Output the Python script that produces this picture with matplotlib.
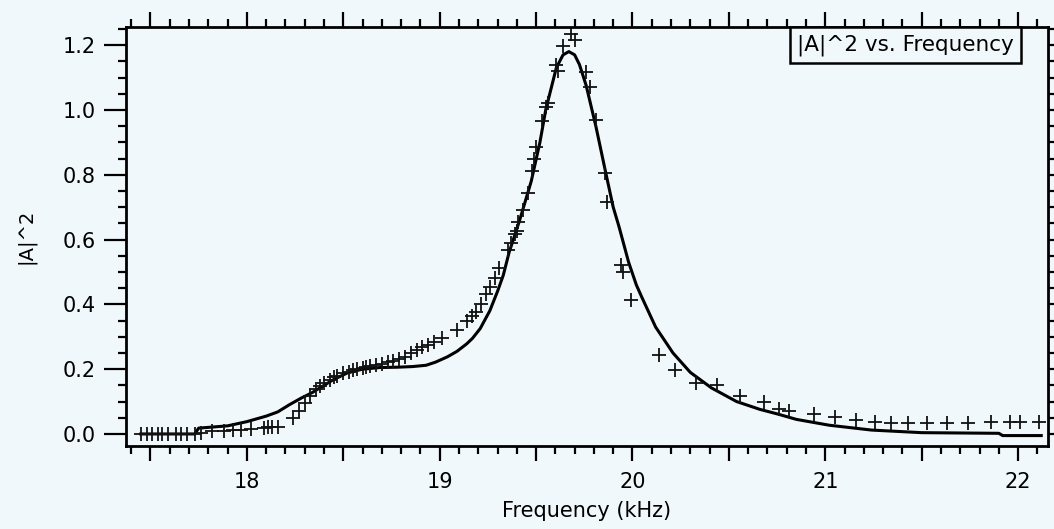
import numpy as np
import matplotlib
matplotlib.use("Agg")
import matplotlib.pyplot as plt
from matplotlib.ticker import MultipleLocator, FuncFormatter

# measured points (kHz, |A|^2)
freq_data = [17.45, 17.48, 17.51, 17.54, 17.56, 17.59, 17.63, 17.66, 17.69, 17.73,
             17.76, 17.82, 17.88, 17.93, 17.97, 18.02, 18.09, 18.11, 18.13, 18.16,
             18.24, 18.27, 18.30, 18.33, 18.36, 18.38, 18.40, 18.43, 18.45, 18.47,
             18.50, 18.53, 18.55, 18.57, 18.60, 18.62, 18.64, 18.67, 18.70, 18.73,
             18.76, 18.79, 18.82, 18.85, 18.88, 18.91, 18.94, 18.97, 19.01, 19.09,
             19.14, 19.17, 19.19, 19.215, 19.24, 19.26, 19.285, 19.31, 19.355, 19.37,
             19.39, 19.40, 19.405, 19.43, 19.46, 19.48, 19.49, 19.50, 19.53, 19.55,
             19.56, 19.605, 19.615, 19.64, 19.68, 19.70, 19.76, 19.78, 19.81, 19.855,
             19.87, 19.94, 19.95, 19.99, 20.14, 20.22, 20.33, 20.44, 20.56, 20.68,
             20.76, 20.81, 20.94, 21.05, 21.16, 21.26, 21.34, 21.43, 21.53, 21.63,
             21.74, 21.86, 21.96, 22.01, 22.11]
amp_data = [0.0, 0.0, 0.0, 0.0, 0.0, 0.0, 0.0, 0.0, 0.0, 0.0,
            0.002, 0.008, 0.010, 0.012, 0.012, 0.015, 0.018, 0.020, 0.020, 0.022,
            0.050, 0.070, 0.095, 0.118, 0.140, 0.148, 0.156, 0.167, 0.175, 0.180,
            0.187, 0.192, 0.197, 0.200, 0.204, 0.206, 0.209, 0.212, 0.216, 0.221,
            0.226, 0.232, 0.239, 0.250, 0.258, 0.268, 0.276, 0.285, 0.295, 0.322,
            0.350, 0.363, 0.377, 0.400, 0.432, 0.455, 0.480, 0.512, 0.568, 0.590,
            0.616, 0.625, 0.655, 0.690, 0.743, 0.810, 0.850, 0.887, 0.965, 1.010,
            1.020, 1.139, 1.120, 1.197, 1.233, 1.215, 1.118, 1.072, 0.969, 0.805,
            0.715, 0.520, 0.500, 0.414, 0.244, 0.198, 0.158, 0.151, 0.118, 0.098,
            0.076, 0.072, 0.062, 0.052, 0.043, 0.036, 0.033, 0.033, 0.033, 0.033,
            0.033, 0.037, 0.037, 0.037, 0.037]

# fit curve
freq_fit = [17.45, 17.73, 17.75, 17.90, 18.00, 18.10, 18.16, 18.22, 18.28, 18.34,
            18.40, 18.45, 18.52, 18.60, 18.69, 18.78, 18.86, 18.93, 18.98, 19.04,
            19.09, 19.14, 19.17, 19.21, 19.26, 19.30, 19.33, 19.36, 19.415, 19.475,
            19.52, 19.55, 19.605, 19.64, 19.67, 19.70, 19.725, 19.76, 19.81, 19.86,
            19.90, 19.93, 19.98, 20.02, 20.05, 20.12, 20.21, 20.30, 20.41, 20.54,
            20.66, 20.75, 20.85, 21.02, 21.24, 21.50, 21.90, 21.92, 22.12]
amp_fit = [0.0, 0.0, 0.018, 0.025, 0.038, 0.055, 0.068, 0.090, 0.110, 0.128,
           0.150, 0.168, 0.188, 0.200, 0.205, 0.206, 0.208, 0.212, 0.222, 0.238,
           0.255, 0.278, 0.295, 0.325, 0.380, 0.440, 0.490, 0.560, 0.660, 0.780,
           0.900, 1.000, 1.130, 1.170, 1.180, 1.170, 1.140, 1.075, 0.950, 0.810,
           0.700, 0.640, 0.530, 0.460, 0.420, 0.330, 0.250, 0.190, 0.142, 0.100,
           0.076, 0.062, 0.045, 0.027, 0.012, 0.004, 0.002, -0.005, -0.005]

bg = "#f1f8fc"
plt.rcParams["font.family"] = "DejaVu Sans"

fig = plt.figure(figsize=(10.54, 5.29), dpi=100, facecolor=bg)
ax = fig.add_axes([0.1195, 0.157, 0.8748, 0.792], facecolor=bg)

ax.plot(freq_fit, amp_fit, color="black", lw=2.2)
ax.plot(freq_data, amp_data, ls="none", marker="+", ms=10, mew=1.3, color="#111111")

ax.set_xlim(17.373, 22.155)
ax.set_ylim(-0.037, 1.256)

ax.xaxis.set_major_locator(MultipleLocator(0.5))
ax.xaxis.set_minor_locator(MultipleLocator(0.1))
ax.xaxis.set_major_formatter(FuncFormatter(lambda v, p: "%d" % round(v) if abs(v - round(v)) < 1e-6 else ""))
ax.yaxis.set_major_locator(MultipleLocator(0.2))
ax.yaxis.set_minor_locator(MultipleLocator(0.05))
ax.yaxis.set_major_formatter(FuncFormatter(lambda v, p: "%.1f" % v))

ax.tick_params(which="both", direction="out", top=True, right=True, width=1.6, color="black")
ax.tick_params(axis="x", which="major", length=11, pad=8, labelsize=15)
ax.tick_params(axis="y", which="major", length=16, pad=6, labelsize=15)
ax.tick_params(which="minor", length=6)
for s in ax.spines.values():
    s.set_linewidth(2)

ax.set_xlabel("Frequency (kHz)", fontsize=15, labelpad=6)
ax.set_ylabel("|A|^2", fontsize=14, labelpad=19)

ax.text(0.963, 0.983, "|A|^2 vs. Frequency", transform=ax.transAxes, ha="right", va="top",
        fontsize=15.5, bbox=dict(boxstyle="square,pad=0.35", fc=bg, ec="black", lw=1.8))

fig.savefig("out.png", dpi=100, facecolor=bg)
